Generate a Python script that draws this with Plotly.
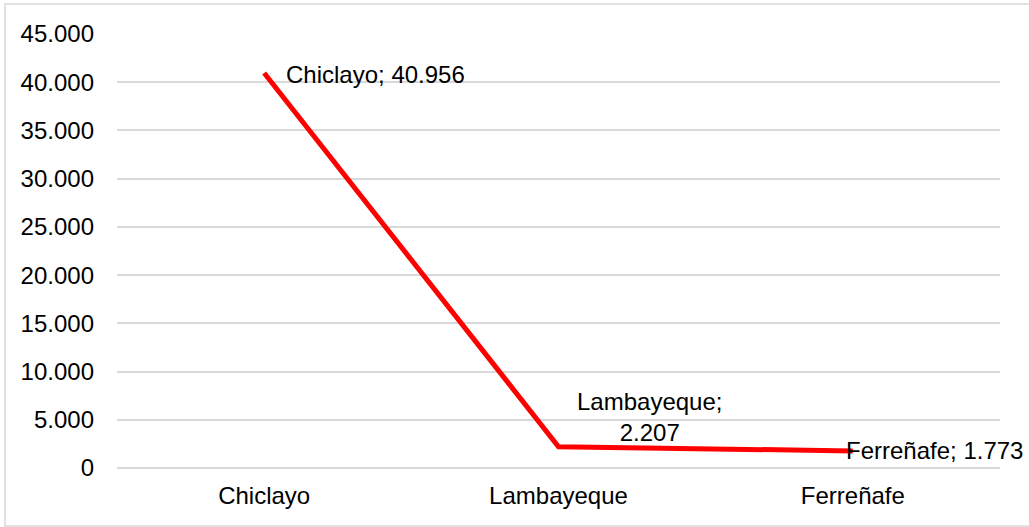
import plotly.graph_objects as go

categories = ["Chiclayo", "Lambayeque", "Ferreñafe"]
values = [40956, 2207, 1773]
value_labels = ["40.956", "2.207", "1.773"]
y_ticks = [0, 5000, 10000, 15000, 20000, 25000, 30000, 35000, 40000, 45000]

FONT = "Liberation Sans, Arial, sans-serif"
FS = 24

fig = go.Figure()
fig.add_trace(go.Scatter(
    x=categories, y=values, mode="lines",
    line=dict(color="#ff0000", width=5),
    hoverinfo="skip", showlegend=False,
))

# data labels
fig.add_annotation(x=categories[0], y=values[0], text=f"{categories[0]}; {value_labels[0]}",
                   showarrow=False, xanchor="left", yanchor="middle", xshift=20, yshift=-1,
                   font=dict(family=FONT, size=FS, color="#000"))
fig.add_annotation(x=categories[1], y=values[1], text=f"{categories[1]};<br>{value_labels[1]}",
                   showarrow=False, xanchor="center", yanchor="bottom", xshift=91, yshift=-1,
                   align="center", font=dict(family=FONT, size=FS, color="#000"))
fig.add_annotation(x=categories[2], y=values[2], text=f"{categories[2]}; {value_labels[2]}",
                   showarrow=False, xanchor="left", yanchor="middle", xshift=-9, yshift=0,
                   font=dict(family=FONT, size=FS, color="#000"))

W, H = 1029, 527
L, T, R, B = 117, 34, 29, 59
pw, ph = W - L - R, H - T - B
def px(xs): return (xs - L) / pw
def py(ys): return (H - B - ys) / ph
fig.add_shape(type="rect", xref="paper", yref="paper",
              x0=px(5), x1=px(1045), y0=py(526), y1=py(4),
              line=dict(color="#d9d9d9", width=1.5), layer="below")

fig.update_layout(
    width=W, height=H,
    margin=dict(l=L, r=R, t=T, b=B, autoexpand=False),
    paper_bgcolor="white", plot_bgcolor="white",
    separators=",.",
    font=dict(family=FONT, size=FS, color="#000"),
    xaxis=dict(type="category", range=[-0.5, 2.5], showgrid=False, zeroline=False, showline=False,
               ticks="", ticklabelstandoff=11,
               tickfont=dict(family=FONT, size=FS, color="#000")),
    yaxis=dict(range=[0, 45000], tickvals=y_ticks, tickformat=",d",
               showgrid=True, gridcolor="#d9d9d9", gridwidth=1.5,
               zeroline=True, zerolinecolor="#d9d9d9", zerolinewidth=1.5,
               showline=False, ticks="", ticklabelstandoff=22,
               tickfont=dict(family=FONT, size=FS, color="#000")),
)

fig.write_html("out.html", config={"displayModeBar": False},
               post_script="document.body.style.margin='0';document.body.style.overflow='hidden';")
